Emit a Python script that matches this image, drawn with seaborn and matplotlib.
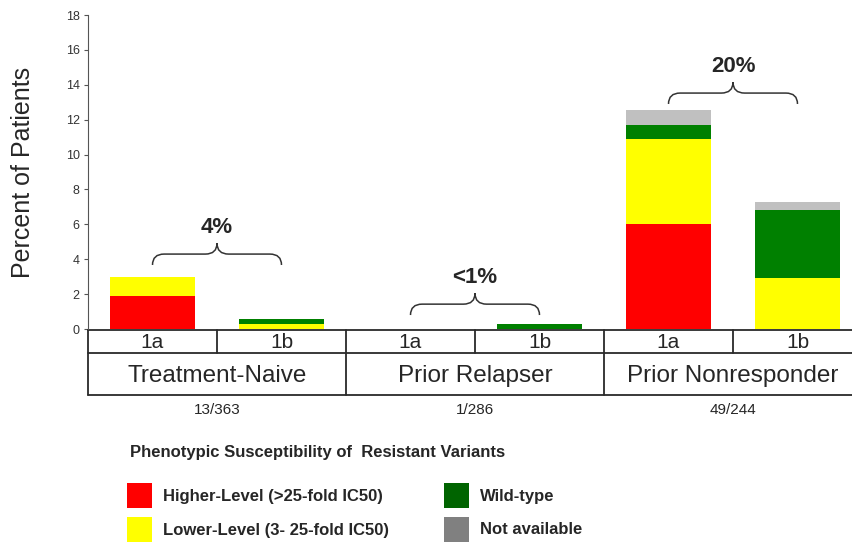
import numpy as np
import pandas as pd
import matplotlib
matplotlib.use('Agg')
from matplotlib import pyplot as plt
from matplotlib.path import Path
from matplotlib.patches import PathPatch, Patch
import matplotlib.transforms as mtransforms
import seaborn as sns

# data (percent of patients)
groups = ['Treatment-Naive', 'Prior Relapser', 'Prior Nonresponder']
counts = ['13/363', '1/286', '49/244']
group_pct = ['4%', '<1%', '20%']
subtypes = ['1a', '1b']
slots = ['TN 1a', 'TN 1b', 'PR 1a', 'PR 1b', 'PN 1a', 'PN 1b']

higher = [1.9, 0.0, 0.0, 0.0, 6.0, 0.0]
lower = [1.1, 0.28, 0.0, 0.0, 4.9, 2.9]
wild = [0.0, 0.27, 0.0, 0.3, 0.8, 3.95]
na = [0.0, 0.0, 0.0, 0.0, 0.85, 0.45]

layer_names = ['Higher-Level (>25-fold IC50)', 'Lower-Level (3- 25-fold IC50)', 'Wild-type', 'Not available']
bar_colors = ['#ff0000', '#ffff00', '#008000', '#c0c0c0']
legend_colors = ['#ff0000', '#ffff00', '#006400', '#808080']

df = pd.DataFrame({'slot': slots, 'higher': higher, 'lower': lower, 'wild': wild, 'na': na})
df['c1'] = df['higher']
df['c2'] = df['c1'] + df['lower']
df['c3'] = df['c2'] + df['wild']
df['c4'] = df['c3'] + df['na']

sns.set_style('white')
plt.rcParams['font.family'] = ['Liberation Sans', 'DejaVu Sans']

fig = plt.figure(figsize=(8.52, 5.5), dpi=100)
ax = fig.add_axes([88 / 852, 1 - 329 / 550, 774 / 852, 314 / 550])

# stacked bars: draw cumulative heights from the top layer down
for col, c in zip(['c4', 'c3', 'c2', 'c1'], bar_colors[::-1]):
    sns.barplot(data=df, x='slot', y=col, order=slots, color=c, width=0.66,
                linewidth=0, saturation=1, ax=ax)

ax.set_xlim(-0.5, 5.5)
ax.set_ylim(0, 18)
ax.set_yticks(range(0, 19, 2))
ax.tick_params(axis='y', left=True, length=3, width=0.8, color='#555555',
               labelsize=9, labelcolor='#333333', pad=3)
ax.set_xticks([])
ax.set_xlabel('')
ax.set_ylabel('Percent of Patients', fontsize=18, labelpad=22)
for s in ['top', 'right', 'bottom']:
    ax.spines[s].set_visible(False)
ax.spines['left'].set_color('#555555')
ax.spines['left'].set_linewidth(0.8)

# table under the axis
tr = mtransforms.blended_transform_factory(ax.transData, fig.transFigure)
y_top, y_mid, y_bot = 1 - 330 / 550, 1 - 353 / 550, 1 - 395 / 550
lc = '#2a2a2a'
for yy in [y_top, y_mid, y_bot]:
    ax.plot([-0.5, 5.5], [yy, yy], color=lc, lw=1.3, transform=tr, clip_on=False)
for i in range(7):
    bottom = y_bot if i % 2 == 0 else y_mid
    ax.plot([i - 0.5, i - 0.5], [y_top, bottom], color=lc, lw=1.3, transform=tr, clip_on=False)
for i in range(6):
    ax.text(i, (y_top + y_mid) / 2 - 0.002, subtypes[i % 2], ha='center', va='center',
            fontsize=15, transform=tr)
for g in range(3):
    ax.text(2 * g + 0.5, (y_mid + y_bot) / 2 - 0.003, groups[g], ha='center', va='center',
            fontsize=17.5, transform=tr)
    ax.text(2 * g + 0.5, 1 - 410 / 550, counts[g], ha='center', va='center',
            fontsize=11, transform=tr)


def brace(x0, x1, y, h):
    xm = (x0 + x1) / 2
    dx = 0.09
    verts = [(x0, y), (x0, y + h / 2), (x0 + dx, y + h / 2),
             (xm - dx, y + h / 2),
             (xm, y + h / 2), (xm, y + h),
             (xm, y + h / 2), (xm + dx, y + h / 2),
             (x1 - dx, y + h / 2),
             (x1, y + h / 2), (x1, y)]
    codes = [Path.MOVETO, Path.CURVE3, Path.CURVE3, Path.LINETO,
             Path.CURVE3, Path.CURVE3, Path.CURVE3, Path.CURVE3,
             Path.LINETO, Path.CURVE3, Path.CURVE3]
    ax.add_patch(PathPatch(Path(verts, codes), fill=False, ec='#333333', lw=1.1))


offsets = [0.67, 0.5, 0.35]
for g in range(3):
    top = max(df['c4'][2 * g], df['c4'][2 * g + 1])
    base = top + offsets[g]
    brace(2 * g, 2 * g + 1, base, 1.25)
    ax.text(2 * g + 0.5, base + 2.15, group_pct[g], ha='center', va='center',
            fontsize=16, fontweight='bold')

# legend
fig.text(130 / 852, 1 - 452 / 550, 'Phenotypic Susceptibility of  Resistant Variants',
         ha='left', va='center', fontsize=12, fontweight='bold')
handles = [Patch(facecolor=c, edgecolor='none') for c in legend_colors]
leg = fig.legend(handles, layer_names, ncol=2, loc='upper left',
                 bbox_to_anchor=(127 / 852, 1 - 483 / 550), frameon=False,
                 prop={'weight': 'bold', 'size': 12}, borderpad=0, borderaxespad=0,
                 handlelength=1.5, handleheight=1.9, labelspacing=0.55,
                 columnspacing=3.3, handletextpad=0.66)

fig.savefig('out.png', dpi=100)
